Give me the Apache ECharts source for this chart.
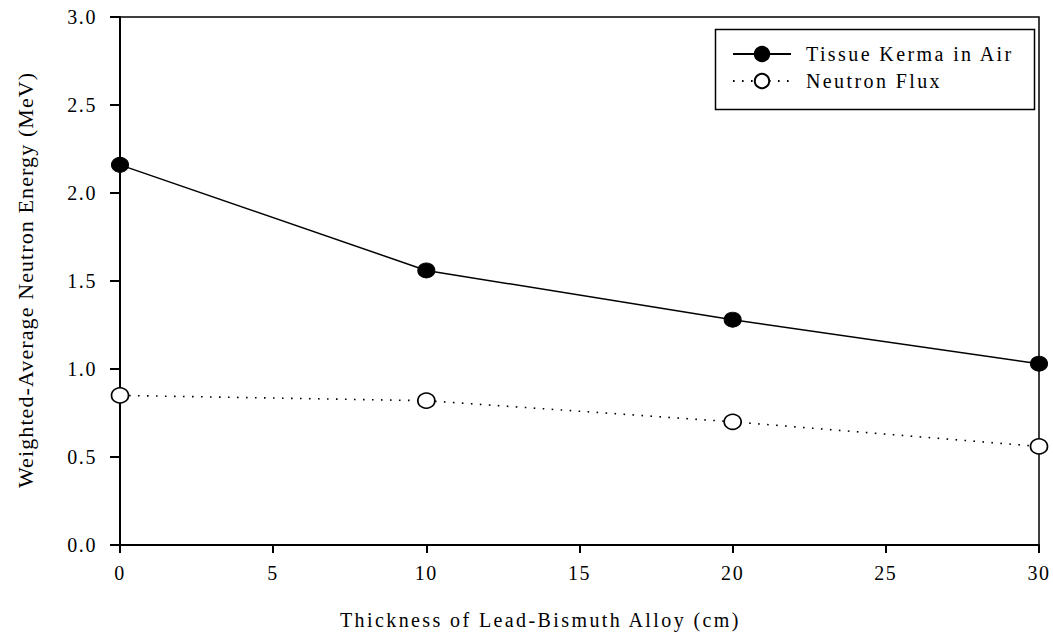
<!DOCTYPE html>
<html>
<head>
<meta charset="utf-8">
<script src="https://cdn.jsdelivr.net/npm/echarts@6/dist/echarts.min.js"></script>
<style>
  html, body { margin: 0; padding: 0; background: #fff; }
  #chart { width: 1053px; height: 637px; }
</style>
</head>
<body>
<div id="chart"></div>
<script>
const thickness = [0, 10, 20, 30];
const kermaEnergy = [2.16, 1.56, 1.28, 1.03];
const fluxEnergy = [0.85, 0.82, 0.70, 0.56];
const seriesNames = ['Tissue Kerma in Air', 'Neutron Flux'];
const xTitle = 'Thickness of Lead-Bismuth Alloy (cm)';
const yTitle = 'Weighted-Average Neutron Energy (MeV)';

const FONT = '"Liberation Serif", "Times New Roman", serif';

const chart = echarts.init(document.getElementById('chart'), null, { renderer: 'svg' });

const option = {
  animation: false,
  backgroundColor: '#fff',
  textStyle: { fontFamily: FONT, color: '#000' },
  grid: {
    left: 120, right: 14, top: 17, bottom: 92,
    show: true, borderColor: '#000', borderWidth: 1.5, backgroundColor: 'transparent'
  },
  xAxis: {
    type: 'value', min: 0, max: 30, interval: 5,
    axisLine: { show: true, onZero: false, lineStyle: { color: '#000', width: 2 } },
    axisTick: { show: true, inside: false, length: 8, lineStyle: { color: '#000', width: 2 } },
    axisLabel: { margin: 18, fontSize: 20, fontFamily: FONT, color: '#000' },
    splitLine: { show: false }
  },
  yAxis: {
    type: 'value', min: 0, max: 3, interval: 0.5,
    axisLine: { show: true, onZero: false, lineStyle: { color: '#000', width: 2 } },
    axisTick: { show: true, inside: false, length: 10, lineStyle: { color: '#000', width: 2 } },
    axisLabel: { margin: 23, fontSize: 20, fontFamily: FONT, color: '#000',
      formatter: v => v.toFixed(1) },
    splitLine: { show: false }
  },
  legend: {
    orient: 'vertical',
    left: 732, top: 44,
    itemWidth: 58, itemHeight: 18, itemGap: 7,
    padding: 0,
    textStyle: { fontSize: 20, fontFamily: FONT, color: '#000', lineHeight: 18, padding: [0, 0, 0, 10] },
    data: seriesNames
  },
  graphic: [
    { type: 'rect', left: 713, top: 27, shape: { width: 319, height: 80 },
      style: { fill: 'none', stroke: '#000', lineWidth: 1.5 }, z: 100 },
    { type: 'text', x: 340, y: 620,
      style: { text: xTitle, font: '20px ' + FONT, fill: '#000', align: 'left', verticalAlign: 'middle' } },
    { type: 'text', x: 25, y: 488, rotation: Math.PI / 2,
      style: { text: yTitle, font: '22px ' + FONT, fill: '#000', align: 'left', verticalAlign: 'middle' } }
  ],
  series: [
    {
      name: seriesNames[0], type: 'line', clip: false,
      data: thickness.map((t, i) => [t, kermaEnergy[i]]),
      symbol: 'circle', symbolSize: [17, 15],
      itemStyle: { color: '#000', borderColor: '#000', borderWidth: 1 },
      lineStyle: { color: '#000', width: 1.5, type: 'solid' },
      z: 3
    },
    {
      name: seriesNames[1], type: 'line', clip: false,
      data: thickness.map((t, i) => [t, fluxEnergy[i]]),
      symbol: 'circle', symbolSize: [17, 15],
      itemStyle: { color: '#fff', borderColor: '#000', borderWidth: 1.6 },
      lineStyle: { color: '#000', width: 1.6, type: [1.6, 7.4] },
      z: 3
    }
  ]
};

chart.setOption(option);

function applySpacing() {
  document.querySelectorAll('#chart svg text').forEach(el => {
    const t = el.textContent;
    if (t === yTitle) el.style.letterSpacing = '1.1px';
    else if (t === xTitle) el.style.letterSpacing = '2.4px';
    else if (seriesNames.indexOf(t) >= 0) el.style.letterSpacing = '2.4px';
    else el.style.letterSpacing = '1.6px';
  });
}
applySpacing();
chart.on('finished', applySpacing);
</script>
</body>
</html>
